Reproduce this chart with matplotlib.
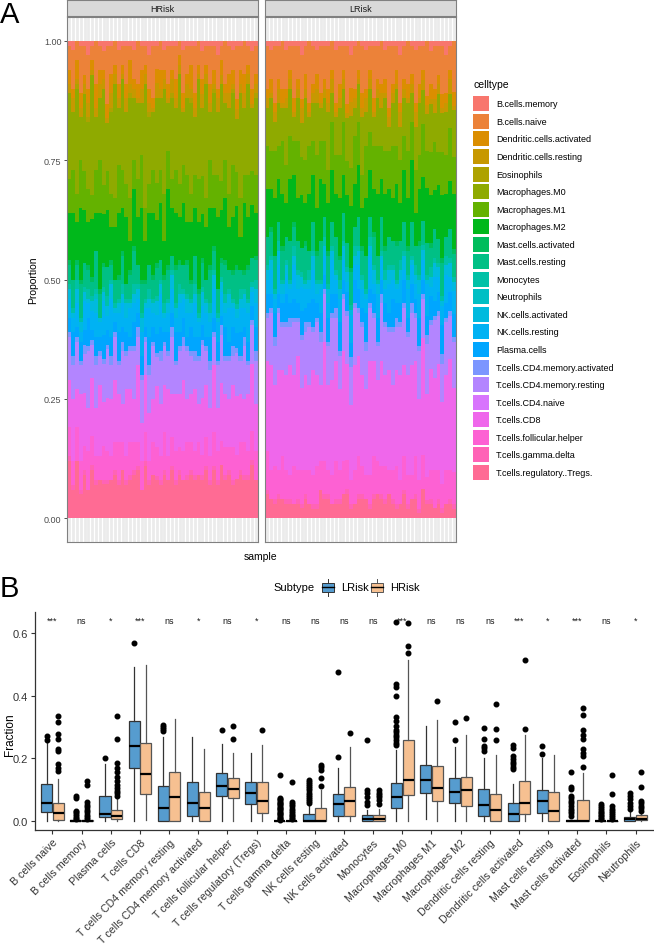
import numpy as np
import matplotlib
import matplotlib.pyplot as plt
from matplotlib.patches import Rectangle

matplotlib.use('Agg')
plt.rcParams['font.family'] = ['Liberation Sans', 'DejaVu Sans']

# ---------------- panel A data: per-sample cell fractions (percent) ----------------
celltypes = ['B.cells.memory', 'B.cells.naive', 'Dendritic.cells.activated',
             'Dendritic.cells.resting', 'Eosinophils', 'Macrophages.M0',
             'Macrophages.M1', 'Macrophages.M2', 'Mast.cells.activated',
             'Mast.cells.resting', 'Monocytes', 'Neutrophils', 'NK.cells.activated',
             'NK.cells.resting', 'Plasma.cells', 'T.cells.CD4.memory.activated',
             'T.cells.CD4.memory.resting', 'T.cells.CD4.naive', 'T.cells.CD8',
             'T.cells.follicular.helper', 'T.cells.gamma.delta',
             'T.cells.regulatory..Tregs.']

hrisk_props = [
    [1,5,3,2,0,18,7,10,1,4,1,0,2,4,3,1,9,0,10,6,1,12],
    [2,8,2,3,0,12,9,14,0,6,1,0,1,3,5,2,7,0,13,5,1,6],
    [0,4,4,1,1,22,6,8,1,3,2,0,3,5,2,1,10,0,8,7,0,12],
    [1,10,3,2,0,9,10,15,1,7,1,0,2,2,4,1,6,0,14,6,1,5],
    [1,6,2,2,0,16,8,11,0,5,1,0,2,6,3,2,8,0,11,5,1,9],
    [3,7,3,3,1,14,7,9,1,4,2,0,1,3,6,1,12,0,9,8,0,6],
    [1,3,2,1,0,25,5,12,1,3,1,0,2,4,2,1,7,0,12,6,1,10],
    [0,9,5,2,0,11,9,8,0,8,1,1,3,5,4,2,9,0,10,5,1,7],
    [1,5,3,3,0,13,11,16,1,5,0,0,1,3,3,1,6,0,15,5,0,8],
    [2,4,2,2,0,20,6,10,1,4,1,0,2,7,5,1,8,0,9,7,1,7],
    [1,12,3,1,0,10,8,12,0,6,2,0,2,3,3,1,10,0,11,6,1,7],
    [1,6,4,3,1,17,7,7,1,3,1,0,3,8,4,2,7,0,12,5,0,8],
    [0,5,2,2,0,24,6,11,0,5,1,0,1,2,2,1,9,0,13,6,1,9],
    [2,7,3,2,0,12,10,13,1,4,1,0,2,4,6,1,6,0,10,8,1,7],
    [1,4,2,1,0,19,8,9,1,6,2,0,2,5,3,2,11,0,8,6,0,10],
    [1,8,3,3,0,15,7,14,0,3,1,0,3,3,4,1,7,0,14,5,1,7],
    [1,3,5,2,1,21,9,6,1,5,1,0,1,6,2,1,8,0,11,7,1,8],
    [2,6,2,2,0,13,6,12,1,7,2,0,2,4,5,1,10,0,9,6,1,9],
    [0,9,3,1,0,16,8,10,0,4,1,0,2,3,3,2,6,0,16,5,1,10],
    [1,5,4,3,0,11,11,15,1,6,1,0,3,5,4,1,9,0,8,6,0,6],
    [1,4,2,2,0,26,7,8,1,3,1,0,1,4,2,1,7,0,12,6,1,11],
    [3,7,3,2,1,14,6,11,0,5,2,0,2,6,6,2,8,0,10,4,1,7],
    [1,11,2,1,0,12,9,13,1,4,1,0,2,3,3,1,11,0,9,7,0,9],
    [1,5,3,3,0,18,8,9,1,6,1,0,3,4,4,1,6,0,13,6,1,8],
    [0,6,4,2,0,15,7,12,0,4,1,0,2,7,5,2,9,0,11,5,1,7],
    [2,4,2,2,0,22,10,7,1,5,2,0,1,3,2,1,8,0,10,8,1,9],
    [1,8,3,1,0,10,8,16,1,6,1,0,2,4,4,1,7,0,14,5,0,8],
    [1,5,2,3,1,17,6,10,0,3,1,0,3,5,3,2,12,0,9,6,1,10],
    [1,7,4,2,0,13,9,11,1,7,1,0,2,3,6,1,6,0,12,6,1,7],
    [0,3,2,2,0,23,7,9,1,4,2,0,2,6,3,1,9,0,11,5,1,9],
    [2,9,3,1,0,11,8,13,0,5,1,0,1,4,4,2,7,0,15,6,0,8],
    [1,6,2,3,0,16,10,8,1,6,1,0,3,5,2,1,10,0,9,7,1,8],
    [1,4,5,2,1,19,6,12,1,3,1,0,2,3,5,1,8,0,10,6,1,9],
    [1,10,3,2,0,12,7,10,0,6,2,0,2,7,3,2,6,0,13,5,1,8],
    [0,5,2,1,0,21,9,14,1,4,1,0,1,3,4,1,9,0,8,7,0,9],
    [2,6,3,3,0,14,8,9,1,5,1,0,3,4,3,1,11,0,12,4,1,8],
    [1,4,2,2,0,24,6,11,0,4,1,0,2,5,2,1,7,0,11,6,1,10],
    [1,8,4,2,0,10,10,12,1,7,2,0,2,3,5,2,8,0,10,5,1,7],
    [1,5,3,1,1,17,7,8,1,4,1,0,3,6,3,1,6,0,14,7,1,10],
    [3,7,2,3,0,13,9,15,0,5,1,0,1,4,4,1,9,0,9,6,1,7],
    [1,3,3,2,0,20,6,10,1,3,1,0,2,5,2,2,10,0,12,5,0,11],
    [0,9,2,2,0,12,8,13,1,6,2,0,2,3,6,1,7,0,11,6,1,8],
    [1,6,4,3,0,18,7,9,0,4,1,0,3,7,3,1,8,0,10,5,1,9],
    [2,4,3,1,1,15,11,11,1,5,1,0,1,4,4,2,6,0,13,7,1,7],
    [1,11,2,2,0,11,7,12,1,7,1,0,2,3,3,1,9,0,12,5,0,8],
    [1,5,3,2,0,22,8,7,0,4,2,0,2,5,5,1,7,0,10,6,1,9],
    [0,7,4,3,0,14,6,14,1,3,1,0,3,4,2,2,11,0,9,7,1,8],
    [1,4,2,2,0,19,9,10,1,6,1,0,2,6,4,1,6,0,12,5,1,8],
    [2,8,3,1,0,13,7,11,0,5,1,0,1,3,3,1,8,0,14,6,1,11],
    [1,6,2,2,1,16,8,9,1,4,2,0,3,5,5,2,9,0,10,6,0,8],
]

lrisk_props = [
    [1,9,2,2,0,8,9,10,0,6,1,0,2,3,4,1,9,0,19,8,1,5],
    [2,6,3,1,0,11,8,8,1,5,1,0,2,5,3,1,11,0,22,6,0,4],
    [1,12,2,2,0,6,10,12,0,7,1,0,1,3,5,2,8,0,17,7,1,3],
    [1,7,2,3,0,9,7,9,0,4,2,0,3,6,3,1,12,0,21,5,1,4],
    [0,10,3,1,0,7,11,11,1,6,1,0,2,2,4,1,9,0,18,9,0,4],
    [2,8,2,2,0,12,8,7,0,5,1,0,2,4,6,1,10,0,20,6,1,3],
    [1,5,2,2,0,10,9,13,0,8,1,0,1,3,3,2,8,0,23,5,1,3],
    [1,11,3,1,0,5,7,10,1,4,2,0,2,7,4,1,11,0,19,8,0,3],
    [1,7,2,2,0,9,12,9,0,6,1,0,3,3,3,1,7,0,24,6,1,3],
    [3,9,2,3,0,7,8,11,0,5,1,0,2,5,5,1,10,0,17,7,1,2],
    [1,6,3,2,0,13,9,8,1,7,1,0,1,4,3,2,9,0,20,5,1,4],
    [0,13,2,1,0,6,10,12,0,4,2,0,2,3,4,1,12,0,18,7,0,3],
    [1,8,2,2,0,8,7,10,0,6,1,0,3,6,6,1,8,0,22,6,1,2],
    [2,5,3,3,0,11,11,9,1,5,1,0,2,2,3,1,11,0,19,8,1,2],
    [1,10,2,1,0,7,8,13,0,8,1,0,1,5,4,2,9,0,16,6,0,6],
    [1,7,2,2,0,9,9,7,0,4,2,0,2,4,3,1,10,0,25,7,1,4],
    [1,9,3,2,0,12,7,10,1,6,1,0,3,3,5,1,8,0,18,5,1,4],
    [0,6,2,3,0,6,10,11,0,5,1,0,2,7,4,1,13,0,20,6,0,3],
    [2,11,2,1,0,8,8,9,0,7,1,0,1,3,3,2,9,0,21,8,1,3],
    [1,8,3,2,0,10,9,12,1,4,2,0,2,5,6,1,7,0,17,6,1,3],
    [1,5,2,2,0,7,11,8,0,6,1,0,3,4,3,1,11,0,23,7,0,5],
    [1,12,2,1,0,9,7,10,0,5,1,0,2,2,4,1,10,0,20,6,1,5],
    [3,7,3,3,0,11,8,13,1,7,1,0,1,6,3,2,8,0,16,5,1,2],
    [1,9,2,2,0,6,10,9,0,4,2,0,2,3,5,1,12,0,22,7,0,3],
    [0,6,2,1,0,8,9,11,0,6,1,0,3,5,4,1,9,0,21,8,1,4],
    [1,10,3,2,0,12,7,8,1,5,1,0,2,4,3,1,10,0,19,6,1,4],
    [2,8,2,3,0,7,11,12,0,7,1,0,1,3,6,2,8,0,18,5,0,4],
    [1,5,2,2,0,9,8,10,0,4,2,0,2,7,3,1,11,0,24,6,1,2],
    [1,11,3,1,0,6,9,9,1,6,1,0,3,2,4,1,9,0,20,8,1,4],
    [1,7,2,2,0,10,10,13,0,5,1,0,2,5,5,1,7,0,17,7,0,5],
    [0,9,2,3,0,8,7,8,0,7,1,0,1,4,3,2,12,0,22,6,1,4],
    [2,6,3,1,0,11,9,11,1,4,2,0,2,3,4,1,10,0,19,7,1,3],
    [1,13,2,2,0,5,8,10,0,6,1,0,3,6,3,1,8,0,21,5,0,5],
    [1,8,2,2,0,9,11,9,0,5,1,0,2,4,6,1,11,0,18,6,1,3],
    [1,5,3,1,0,12,8,12,1,7,1,0,1,3,3,2,9,0,20,8,1,2],
    [3,10,2,3,0,7,9,8,0,4,2,0,2,5,4,1,10,0,22,5,0,3],
    [1,7,2,2,0,8,7,11,0,6,1,0,3,2,5,1,12,0,19,7,1,5],
    [0,9,3,1,0,10,10,10,1,5,1,0,2,6,3,1,8,0,21,6,1,2],
    [1,6,2,2,0,6,8,13,0,7,1,0,1,4,4,2,11,0,23,5,0,4],
    [2,11,2,3,0,9,9,7,0,4,2,0,2,3,3,1,9,0,20,8,1,4],
    [1,8,3,1,0,11,7,11,1,6,1,0,3,5,6,1,10,0,17,6,1,1],
    [1,5,2,2,0,7,11,9,0,5,1,0,2,4,3,1,8,0,24,7,0,6],
    [0,12,2,2,0,8,8,12,0,7,1,0,1,7,4,2,11,0,18,5,1,3],
    [2,7,3,1,0,10,9,10,1,4,2,0,2,2,5,1,9,0,21,6,1,3],
    [1,9,2,3,0,6,10,8,0,6,1,0,3,5,3,1,12,0,19,8,0,2],
    [1,6,2,2,0,12,7,11,0,5,1,0,2,3,4,1,10,0,22,6,1,3],
    [1,10,3,1,0,8,9,13,1,7,1,0,1,4,6,2,8,0,17,5,1,1],
    [3,8,2,2,0,9,8,9,0,4,2,0,2,6,3,1,11,0,20,7,0,3],
    [1,5,2,3,0,7,11,10,0,6,1,0,3,3,4,1,9,0,23,6,1,3],
    [0,11,3,1,0,10,8,12,1,5,1,0,2,5,5,1,10,0,18,7,1,2],
]

# ---------------- panel B data: boxplot summaries ----------------
cats = ['B cells naive', 'B cells memory', 'Plasma cells', 'T cells CD8',
        'T cells CD4 memory resting', 'T cells CD4 memory activated',
        'T cells follicular helper', 'T cells regulatory (Tregs)',
        'T cells gamma delta', 'NK cells resting', 'NK cells activated',
        'Monocytes', 'Macrophages M0', 'Macrophages M1', 'Macrophages M2',
        'Dendritic cells resting', 'Dendritic cells activated',
        'Mast cells resting', 'Mast cells activated', 'Eosinophils', 'Neutrophils']
sig = ['***', 'ns', '*', '***', 'ns', '*', 'ns', '*', 'ns', 'ns', 'ns',
       'ns', '***', 'ns', 'ns', 'ns', '***', '*', '***', 'ns', '*']

lr_q1 = [0.028, 0, 0.012, 0.168, 0, 0.017, 0.080, 0.054, 0, 0, 0.017,
         0, 0.042, 0.091, 0.059, 0.017, 0, 0.026, 0, 0, 0]
lr_med = [0.059, 0, 0.024, 0.241, 0.042, 0.057, 0.113, 0.091, 0, 0, 0.053,
          0.008, 0.078, 0.130, 0.094, 0.052, 0.022, 0.065, 0, 0, 0.006]
lr_q3 = [0.117, 0.002, 0.080, 0.318, 0.112, 0.124, 0.152, 0.125, 0.001, 0.022, 0.086,
         0.019, 0.122, 0.180, 0.137, 0.102, 0.057, 0.098, 0.002, 0.001, 0.013]
lr_lo = [0, 0, 0, 0, 0, 0, 0, 0, 0, 0, 0, 0, 0, 0.008, 0, 0, 0, 0, 0, 0, 0]
lr_hi = [0.255, 0.004, 0.183, 0.490, 0.268, 0.269, 0.247, 0.218, 0.002, 0.054, 0.168,
         0.036, 0.226, 0.303, 0.237, 0.200, 0.117, 0.200, 0.004, 0.002, 0.028]
lr_out = [
    [0.27, 0.258],
    [0.08, 0.072, 0.033, 0.028, 0.022, 0.016, 0.01, 0.006],
    [0.201],
    [0.569],
    [0.307, 0.3, 0.293, 0.286],
    [],
    [0.292],
    [],
    [0.148, 0.075, 0.07, 0.066, 0.062, 0.058, 0.054, 0.05, 0.046, 0.042, 0.038,
     0.034, 0.03, 0.026, 0.022, 0.018, 0.014, 0.01, 0.006, 0.003],
    [0.131, 0.125, 0.119, 0.112, 0.105, 0.098, 0.091, 0.084, 0.077, 0.07, 0.064, 0.058],
    [0.203, 0.475],
    [0.26, 0.098, 0.088, 0.076, 0.061, 0.052],
    [0.635, 0.437, 0.428, 0.398, 0.332, 0.319, 0.303, 0.292, 0.285, 0.276, 0.269,
     0.26, 0.25, 0.244],
    [],
    [0.257, 0.316],
    [0.297, 0.262, 0.241, 0.234, 0.223],
    [0.244, 0.234, 0.207, 0.197, 0.188, 0.181, 0.174, 0.165],
    [0.239, 0.214],
    [0.155, 0.109, 0.102, 0.08, 0.072, 0.065, 0.057, 0.049, 0.04, 0.033, 0.025, 0.017],
    [0.055, 0.048, 0.042, 0.036, 0.03, 0.025, 0.02, 0.015, 0.01, 0.006],
    [0.091, 0.08, 0.07, 0.059, 0.049, 0.038],
]

hr_q1 = [0.003, 0, 0.008, 0.085, 0, 0, 0.072, 0.025, 0, 0, 0.017,
         0, 0.083, 0.065, 0.048, 0, 0.021, 0, 0, 0, 0.002]
hr_med = [0.025, 0, 0.017, 0.149, 0.078, 0.041, 0.102, 0.063, 0, 0, 0.063,
          0.008, 0.132, 0.105, 0.098, 0.035, 0.059, 0.032, 0, 0, 0.008]
hr_q3 = [0.056, 0.002, 0.036, 0.250, 0.155, 0.093, 0.137, 0.123, 0.001, 0.042, 0.110,
         0.020, 0.258, 0.176, 0.142, 0.087, 0.128, 0.092, 0.068, 0.001, 0.019]
hr_lo = [0, 0, 0, 0.002, 0, 0, 0, 0, 0, 0, 0, 0, 0, 0, 0, 0, 0, 0, 0, 0, 0]
hr_hi = [0.135, 0.004, 0.070, 0.497, 0.324, 0.229, 0.218, 0.244, 0.002, 0.100, 0.237,
         0.038, 0.514, 0.321, 0.273, 0.211, 0.274, 0.210, 0.152, 0.002, 0.043]
hr_out = [
    [0.334, 0.317, 0.278, 0.262, 0.231, 0.222, 0.183, 0.17, 0.16],
    [0.128, 0.114, 0.06, 0.05, 0.045, 0.035, 0.028, 0.02, 0.014, 0.008],
    [0.334, 0.262, 0.185, 0.17, 0.155, 0.142, 0.128, 0.115, 0.104, 0.095, 0.088, 0.081],
    [],
    [],
    [],
    [0.303, 0.263],
    [0.29],
    [0.125, 0.06, 0.054, 0.048, 0.04, 0.033, 0.026, 0.02, 0.015, 0.01, 0.005],
    [0.178, 0.171, 0.164, 0.136, 0.112],
    [0.281],
    [0.098, 0.091, 0.084, 0.077, 0.067, 0.053],
    [0.632, 0.557, 0.537],
    [0.383],
    [0.329],
    [0.375, 0.295, 0.257],
    [0.514, 0.294],
    [],
    [0.361, 0.337, 0.29, 0.276, 0.262, 0.229, 0.218, 0.208, 0.172],
    [0.146, 0.085, 0.048, 0.04, 0.032, 0.025, 0.018, 0.012, 0.006],
    [0.155, 0.109, 0.063, 0.056, 0.049, 0.041, 0.033],
]


def hue_pal(n, l=65, c=100):
    # ggplot2 default discrete palette (polar LUV -> sRGB)
    Xn, Yn, Zn = 95.047, 100.0, 108.883
    un = 4 * Xn / (Xn + 15 * Yn + 3 * Zn)
    vn = 9 * Yn / (Xn + 15 * Yn + 3 * Zn)
    M = np.array([[3.2404542, -1.5371385, -0.4985314],
                  [-0.9692660, 1.8760108, 0.0415560],
                  [0.0556434, -0.2040259, 1.0572252]])
    cols = []
    for h in np.linspace(15, 375, n + 1)[:-1]:
        hr = np.deg2rad(h)
        U, V = c * np.cos(hr), c * np.sin(hr)
        Y = Yn * ((l + 16) / 116) ** 3
        u = U / (13 * l) + un
        v = V / (13 * l) + vn
        X = 9 * Y * u / (4 * v)
        Z = -X / 3 - 5 * Y + 3 * Y / v
        rgb = M @ np.array([X, Y, Z]) / 100
        rgb = np.where(rgb <= 0.0031308, 12.92 * rgb, 1.055 * np.abs(rgb) ** (1 / 2.4) - 0.055)
        cols.append(tuple(np.clip(rgb, 0, 1)))
    return cols


colors = hue_pal(len(celltypes))
W, H = 654, 945
fig = plt.figure(figsize=(W / 100, H / 100), dpi=100)


def px_axes(l, t, r, b):
    return fig.add_axes([l / W, 1 - b / H, (r - l) / W, (b - t) / H])


# ---------------- panel A ----------------
frame_col = '#808080'
for k, (name, rows, (l, r)) in enumerate([('HRisk', hrisk_props, (67, 258)),
                                            ('LRisk', lrisk_props, (265, 456))]):
    ax = px_axes(l, 18, r, 543)
    props = np.array(rows, float)
    props = props / props.sum(axis=1, keepdims=True)
    x = np.arange(len(props))
    ax.vlines(x, -0.05, 1.05, color='#EBEBEB', lw=2.0, zorder=0)
    bottom = np.zeros(len(props))
    for j in reversed(range(len(celltypes))):
        # slightly overlapping bars so no pixel seams appear between samples
        ax.bar(x, props[:, j], bottom=bottom, width=1.06, color=colors[j], linewidth=0,
               antialiased=False, zorder=2)
        bottom += props[:, j]
    ax.set_xlim(-0.6, len(props) - 0.4)
    ax.set_ylim(-0.05, 1.05)
    ax.set_xticks([])
    ax.set_yticks([0, 0.25, 0.5, 0.75, 1.0])
    if k == 0:
        ax.set_yticklabels(['0.00', '0.25', '0.50', '0.75', '1.00'], fontsize=6.5, color='#4D4D4D')
        ax.tick_params(axis='y', length=2.5, width=0.6, color='#333333', pad=1.5)
    else:
        ax.set_yticklabels([])
        ax.tick_params(axis='y', length=0)
    for s in ax.spines.values():
        s.set_color(frame_col)
        s.set_linewidth(0.8)
    st = px_axes(l, 1, r, 17)
    st.set_facecolor('#D9D9D9')
    st.set_xticks([])
    st.set_yticks([])
    for s in st.spines.values():
        s.set_color(frame_col)
        s.set_linewidth(0.8)
    st.text(0.5, 0.5, name, ha='center', va='center', fontsize=6.5, color='#1A1A1A',
            transform=st.transAxes)

fig.text(33 / W, 1 - 280 / H, 'Proportion', rotation=90, ha='center', va='center', fontsize=7.5)
fig.text(261 / W, 1 - 557 / H, 'sample', ha='center', va='center', fontsize=7.5)

# ---------------- panel B ----------------
blue, orange = '#569CCF', '#F6C091'
axB = px_axes(35, 613, 653, 831)
pos = np.arange(len(cats))
for grp, (q1, med, q3, lo, hi, out, col, edge, off) in enumerate([
        (lr_q1, lr_med, lr_q3, lr_lo, lr_hi, lr_out, blue, '#333333', -0.2),
        (hr_q1, hr_med, hr_q3, hr_lo, hr_hi, hr_out, orange, '#555555', 0.2)]):
    stats = [dict(q1=q1[i], med=med[i], q3=q3[i], whislo=lo[i], whishi=hi[i],
                  fliers=out[i]) for i in range(len(cats))]
    axB.bxp(stats, positions=pos + off, widths=0.38, patch_artist=True,
            showcaps=False, manage_ticks=False,
            boxprops=dict(facecolor=col, edgecolor=edge, linewidth=0.9),
            medianprops=dict(color='black', linewidth=1.6),
            whiskerprops=dict(color=edge, linewidth=0.9),
            flierprops=dict(marker='o', markerfacecolor='black', markeredgecolor='black',
                            markersize=3.3))
for i, s in enumerate(sig):
    axB.text(i, 0.633, s, ha='center', va='baseline', fontsize=6.5, color='#1A1A1A')

axB.set_xlim(-0.6, len(cats) - 0.4)
axB.set_ylim(-0.0286, 0.667)
axB.set_yticks([0, 0.2, 0.4, 0.6])
axB.set_yticklabels(['0.0', '0.2', '0.4', '0.6'], fontsize=8, color='#333333')
axB.set_xticks(pos)
axB.set_xticklabels(cats, rotation=45, ha='right', rotation_mode='anchor',
                    fontsize=7.7, color='#333333')
axB.tick_params(length=3, width=0.8, color='#333333', pad=2)
for side in ['top', 'right']:
    axB.spines[side].set_visible(False)
for side in ['left', 'bottom']:
    axB.spines[side].set_color('#333333')
    axB.spines[side].set_linewidth(0.9)
fig.text(10 / W, 1 - 735 / H, 'Fraction', rotation=90, ha='center', va='center', fontsize=8.5)

# ---------------- legends and panel letters ----------------
ov = fig.add_axes([0, 0, 1, 1])
ov.set_xlim(0, W)
ov.set_ylim(H, 0)
ov.axis('off')

ov.text(473, 85, 'celltype', ha='left', va='center', fontsize=7.5)
for i, name in enumerate(celltypes):
    y0 = 97.3 + 17.55 * i
    ov.add_patch(Rectangle((473.3, y0), 15.3, 15, facecolor=colors[i], edgecolor='none'))
    ov.text(496, y0 + 7.5, name, ha='left', va='center', fontsize=6.5)

ov.text(273, 588, 'Subtype', ha='left', va='center', fontsize=8)
for x0, col, edge, lab in [(322, blue, '#333333', 'LRisk'), (371, orange, '#555555', 'HRisk')]:
    ov.add_patch(Rectangle((x0, 583.5), 12, 9.5, facecolor=col, edgecolor=edge, linewidth=0.7))
    ov.plot([x0, x0 + 12], [588.2, 588.2], color='black', lw=1.0)
    ov.plot([x0 + 6, x0 + 6], [580, 583.5], color=edge, lw=0.7)
    ov.plot([x0 + 6, x0 + 6], [593, 596.5], color=edge, lw=0.7)
    ov.text(x0 + 19.5, 588, lab, ha='left', va='center', fontsize=8)

ov.text(0, 1, 'A', ha='left', va='top', fontsize=21)
ov.text(0, 575, 'B', ha='left', va='top', fontsize=21)

fig.savefig('out.png', dpi=100, facecolor='white')
